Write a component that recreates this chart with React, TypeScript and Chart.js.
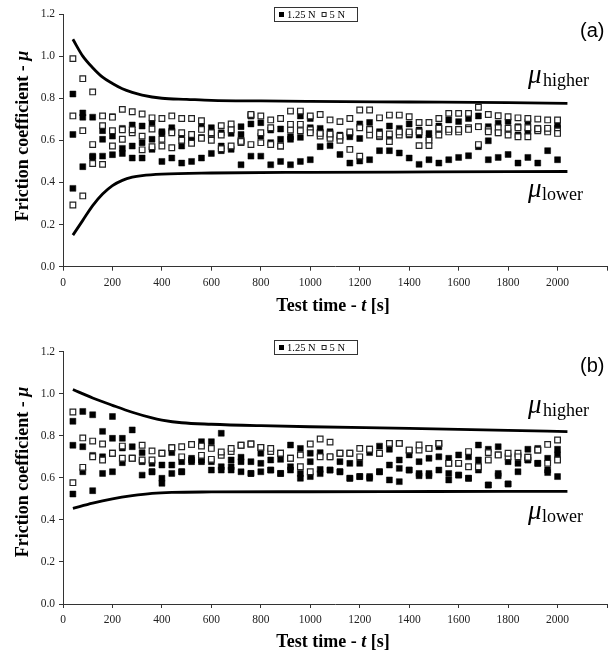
import React, { useEffect, useRef } from "react";
import { Chart, registerables } from "chart.js";
Chart.register(...registerables);

// ---------- data ----------
const times = [40, 80, 120, 160, 200, 240, 280, 320, 360, 400, 440, 480, 520, 560, 600, 640, 680, 720, 760, 800, 840, 880, 920, 960, 1000,
  1040, 1080, 1120, 1160, 1200, 1240, 1280, 1320, 1360, 1400, 1440, 1480, 1520, 1560, 1600, 1640, 1680, 1720, 1760, 1800, 1840, 1880, 1920, 1960, 2000];

// panel (a) — 1.25 N (filled)
const aLow1 = [0.82, 0.73, 0.71, 0.646, 0.712, 0.657, 0.673, 0.668, 0.684, 0.641, 0.66, 0.614, 0.605, 0.668, 0.66, 0.636, 0.657, 0.665, 0.678, 0.684, 0.649, 0.654, 0.617, 0.716, 0.704,
  0.657, 0.641, 0.625, 0.633, 0.678, 0.685, 0.641, 0.668, 0.657, 0.678, 0.649, 0.633, 0.668, 0.697, 0.689, 0.704, 0.716, 0.665, 0.681, 0.689, 0.665, 0.689, 0.657, 0.649, 0.657];
const aLow2 = [0.628, 0.71, 0.525, 0.605, 0.62, 0.562, 0.573, 0.589, 0.605, 0.633, 0.645, 0.573, 0.6, 0.614, 0.62, 0.573, 0.633, 0.628, 0.715, 0.62, 0.589, 0.605, 0.605, 0.614, 0.66,
  0.64, 0.617, 0.61, 0.617, 0.609, 0.65, 0.617, 0.617, 0.636, 0.625, 0.625, 0.61, 0.641, 0.652, 0.652, 0.655, 0.665, 0.598, 0.636, 0.641, 0.625, 0.641, 0.65, 0.657, 0.672];
const aLow3 = [0.372, 0.475, 0.52, 0.525, 0.532, 0.538, 0.516, 0.516, 0.557, 0.5, 0.516, 0.492, 0.5, 0.516, 0.538, 0.551, 0.557, 0.484, 0.525, 0.525, 0.484, 0.5, 0.484, 0.5, 0.508,
  0.57, 0.575, 0.533, 0.492, 0.502, 0.508, 0.551, 0.551, 0.54, 0.516, 0.486, 0.508, 0.492, 0.508, 0.519, 0.527, 0.57, 0.508, 0.519, 0.533, 0.492, 0.519, 0.492, 0.551, 0.508];
// panel (a) — 5 N (open)
const aHigh1 = [0.988, 0.893, 0.83, 0.716, 0.71, 0.747, 0.736, 0.725, 0.707, 0.704, 0.716, 0.704, 0.704, 0.693, 0.636, 0.67, 0.678, 0.595, 0.723, 0.716, 0.697, 0.704, 0.739, 0.739, 0.716,
  0.723, 0.697, 0.689, 0.704, 0.744, 0.744, 0.707, 0.72, 0.72, 0.712, 0.685, 0.685, 0.704, 0.728, 0.728, 0.728, 0.757, 0.723, 0.717, 0.712, 0.707, 0.704, 0.701, 0.697, 0.697];
const aHigh2 = [0.716, 0.646, 0.58, 0.67, 0.646, 0.605, 0.65, 0.62, 0.654, 0.605, 0.636, 0.636, 0.628, 0.652, 0.6, 0.625, 0.573, 0.6, 0.58, 0.636, 0.66, 0.573, 0.676, 0.676, 0.636,
  0.633, 0.63, 0.62, 0.557, 0.66, 0.652, 0.63, 0.594, 0.64, 0.64, 0.575, 0.575, 0.625, 0.652, 0.652, 0.652, 0.665, 0.641, 0.636, 0.657, 0.617, 0.617, 0.655, 0.657, 0.633];
const aHigh3 = [0.293, 0.336, 0.49, 0.486, 0.573, 0.65, 0.636, 0.555, 0.57, 0.573, 0.565, 0.6, 0.586, 0.61, 0.63, 0.56, 0.65, 0.59, 0.72, 0.589, 0.58, 0.573, 0.649, 0.646, 0.65,
  0.62, 0.61, 0.6, 0.64, 0.525, 0.625, 0.62, 0.63, 0.625, 0.63, 0.64, 0.6, 0.657, 0.64, 0.64, 0.66, 0.58, 0.65, 0.66, 0.625, 0.66, 0.66, 0.645, 0.64, 0.645];
// panel (a) bounds
const aUpperT = [40, 80, 120, 160, 200, 240, 280, 320, 400, 500, 600, 800, 1000, 1400, 1800, 2040];
const aUpperV = [1.08, 1.0, 0.945, 0.9, 0.87, 0.845, 0.828, 0.815, 0.8, 0.795, 0.79, 0.787, 0.785, 0.782, 0.779, 0.776];
const aLowerT = [40, 80, 120, 160, 200, 240, 280, 320, 400, 600, 1000, 1500, 2040];
const aLowerV = [0.15, 0.22, 0.29, 0.345, 0.385, 0.41, 0.425, 0.433, 0.44, 0.445, 0.448, 0.45, 0.452];

// panel (b) — 1.25 N (filled)
const bLow1 = [0.869, 0.916, 0.9, 0.821, 0.892, 0.788, 0.828, 0.72, 0.669, 0.661, 0.72, 0.677, 0.693, 0.772, 0.772, 0.812, 0.685, 0.698, 0.677, 0.717, 0.685, 0.688, 0.756, 0.74, 0.717,
  0.72, 0.7, 0.677, 0.669, 0.669, 0.72, 0.751, 0.736, 0.685, 0.709, 0.677, 0.693, 0.748, 0.693, 0.709, 0.7, 0.756, 0.736, 0.748, 0.677, 0.709, 0.736, 0.74, 0.693, 0.736];
const bLow2 = [0.755, 0.748, 0.707, 0.7, 0.788, 0.742, 0.748, 0.677, 0.629, 0.598, 0.661, 0.629, 0.677, 0.677, 0.677, 0.653, 0.653, 0.677, 0.621, 0.669, 0.637, 0.621, 0.653, 0.621, 0.677,
  0.64, 0.637, 0.629, 0.598, 0.606, 0.606, 0.629, 0.661, 0.645, 0.637, 0.621, 0.621, 0.7, 0.621, 0.613, 0.598, 0.685, 0.566, 0.621, 0.571, 0.669, 0.685, 0.669, 0.637, 0.709];
const bLow3 = [0.523, 0.629, 0.539, 0.621, 0.629, 0.672, 0.693, 0.613, 0.629, 0.574, 0.621, 0.629, 0.685, 0.685, 0.637, 0.637, 0.637, 0.629, 0.621, 0.629, 0.637, 0.621, 0.637, 0.598, 0.606,
  0.62, 0.637, 0.629, 0.598, 0.606, 0.598, 0.629, 0.59, 0.582, 0.637, 0.61, 0.61, 0.637, 0.59, 0.613, 0.598, 0.637, 0.566, 0.61, 0.571, 0.629, 0.685, 0.669, 0.625, 0.606];
// panel (b) — 5 N (open)
const bHigh1 = [0.913, 0.79, 0.775, 0.761, 0.717, 0.751, 0.693, 0.755, 0.728, 0.717, 0.743, 0.748, 0.759, 0.751, 0.74, 0.723, 0.74, 0.755, 0.761, 0.745, 0.74, 0.717, 0.693, 0.709, 0.761,
  0.785, 0.77, 0.717, 0.717, 0.74, 0.736, 0.717, 0.764, 0.764, 0.732, 0.756, 0.74, 0.764, 0.669, 0.669, 0.725, 0.653, 0.72, 0.709, 0.717, 0.7, 0.698, 0.732, 0.759, 0.78];
const bHigh2 = [0.577, 0.65, 0.7, 0.685, 0.717, 0.693, 0.693, 0.685, 0.685, 0.717, 0.743, 0.7, 0.759, 0.707, 0.688, 0.707, 0.725, 0.755, 0.761, 0.745, 0.725, 0.717, 0.693, 0.653, 0.629,
  0.7, 0.7, 0.717, 0.717, 0.7, 0.736, 0.717, 0.764, 0.764, 0.732, 0.732, 0.74, 0.764, 0.669, 0.669, 0.653, 0.653, 0.685, 0.709, 0.7, 0.717, 0.698, 0.732, 0.669, 0.685];
// panel (b) bounds
const bUpperT = [40, 120, 200, 280, 360, 400, 480, 600, 800, 1000, 1400, 1800, 2040];
const bUpperV = [1.02, 0.98, 0.945, 0.912, 0.885, 0.875, 0.862, 0.855, 0.848, 0.843, 0.835, 0.826, 0.82];
const bLowerT = [40, 120, 200, 280, 360, 440, 600, 1000, 1500, 2040];
const bLowerV = [0.455, 0.48, 0.5, 0.515, 0.526, 0.531, 0.533, 0.534, 0.535, 0.536];

const xTicksMax = 2200;
const yTicksMax = 1.2;
const legendLabels = ["1.25 N", "5 N"];

// ---------- helpers ----------
const SERIF = '"Liberation Serif", "DejaVu Serif", serif';
const SANS = '"Liberation Sans", Arial, sans-serif';

const pts = (xs: number[], ys: number[]) => xs.map((x, i) => ({ x, y: ys[i] }));

function filledSet(ys: number[]) {
  return {
    type: "scatter" as const,
    data: pts(times, ys),
    pointStyle: "rect",
    pointRadius: 4.2,
    backgroundColor: "#000",
    borderColor: "#000",
    borderWidth: 0.5,
    order: 2,
  };
}
function openSet(ys: number[]) {
  return {
    type: "scatter" as const,
    data: pts(times, ys),
    pointStyle: "rect",
    pointRadius: 4.0,
    backgroundColor: "#fff",
    borderColor: "#222",
    borderWidth: 1.2,
    order: 1,
  };
}
function boundSet(xs: number[], ys: number[]) {
  return {
    type: "line" as const,
    data: pts(xs, ys),
    borderColor: "#000",
    borderWidth: 2.8,
    pointRadius: 0,
    cubicInterpolationMode: "monotone" as const,
    fill: false,
    order: 0,
  };
}

type Layout = {
  height: number;
  padTop: number;
  xAxisH: number;
  legendY: number;
  tagText: string;
  tagY: number;
  hiY: number;
  loY: number;
  yTitleY: number;
  xTitleY: number;
};

function drawParts(ctx: CanvasRenderingContext2D, parts: { t: string; f: string }[], cx: number, y: number) {
  let total = 0;
  for (const p of parts) { ctx.font = p.f; total += ctx.measureText(p.t).width; }
  let x = cx - total / 2;
  ctx.textAlign = "left";
  for (const p of parts) { ctx.font = p.f; ctx.fillText(p.t, x, y); x += ctx.measureText(p.t).width; }
}

function makeTextPlugin(L: Layout) {
  return {
    id: "annot",
    afterDraw(chart: any) {
      const ctx: CanvasRenderingContext2D = chart.ctx;
      const area = chart.chartArea;
      ctx.save();
      ctx.fillStyle = "#000";
      ctx.textBaseline = "alphabetic";
      // legend box
      const bx = 274, by = L.legendY, bw = 83, bh = 14;
      ctx.strokeStyle = "#333";
      ctx.lineWidth = 1;
      ctx.fillStyle = "#fff";
      ctx.fillRect(bx, by, bw, bh);
      ctx.strokeRect(bx + 0.5, by + 0.5, bw, bh);
      ctx.fillStyle = "#000";
      ctx.font = `10.5px ${SERIF}`;
      ctx.fillRect(bx + 5, by + 5, 5, 5);
      ctx.fillText(legendLabels[0], bx + 13, by + 11);
      const w1 = ctx.measureText(legendLabels[0]).width;
      const ox = bx + 13 + w1 + 6;
      ctx.strokeStyle = "#222";
      ctx.strokeRect(ox + 0.5, by + 5.5, 4, 4);
      ctx.fillText(legendLabels[1], ox + 8, by + 11);
      // panel tag
      ctx.font = `20px ${SANS}`;
      ctx.fillText(L.tagText, 580, L.tagY);
      // mu labels
      ctx.font = `italic 27px ${SERIF}`;
      ctx.fillText("μ", 528, L.hiY);
      ctx.fillText("μ", 528, L.loY);
      ctx.font = `18px ${SERIF}`;
      ctx.fillText("higher", 543, L.hiY + 3);
      ctx.fillText("lower", 542, L.loY + 3);
      // axis titles
      const cx = (area.left + area.right) / 2;
      drawParts(ctx, [
        { t: "Test time - ", f: `bold 18px ${SERIF}` },
        { t: "t", f: `bold italic 18px ${SERIF}` },
        { t: " [s]", f: `bold 18px ${SERIF}` },
      ], cx - 2, L.xTitleY);
      ctx.save();
      ctx.translate(28, L.yTitleY);
      ctx.rotate(-Math.PI / 2);
      drawParts(ctx, [
        { t: "Friction coefficient - ", f: `bold 18px ${SERIF}` },
        { t: "μ", f: `bold italic 18px ${SERIF}` },
      ], 0, 0);
      ctx.restore();
      ctx.restore();
    },
  };
}

function PanelChart({ datasets, L }: { datasets: any[]; L: Layout }) {
  const ref = useRef<HTMLCanvasElement | null>(null);
  useEffect(() => {
    if (!ref.current) return;
    const chart = new Chart(ref.current, {
      type: "scatter",
      data: { datasets },
      options: {
        animation: false,
        responsive: false,
        devicePixelRatio: 1,
        events: [],
        layout: { padding: { top: L.padTop, left: 0, right: 6, bottom: 0 } },
        plugins: { legend: { display: false }, tooltip: { enabled: false } },
        scales: {
          x: {
            type: "linear",
            min: 0,
            max: xTicksMax,
            afterFit: (s: any) => { s.height = L.xAxisH; },
            ticks: {
              stepSize: 200,
              color: "#222",
              font: { family: SERIF, size: 11.5 },
              padding: 5,
              maxRotation: 0,
              autoSkip: false,
              callback: (v: any) => (Number(v) >= xTicksMax ? "" : String(v)),
            },
            grid: { display: true, drawOnChartArea: false, drawTicks: true, tickLength: 4, color: "#333" },
            border: { display: true, color: "#333", width: 1 },
          },
          y: {
            type: "linear",
            min: 0,
            max: yTicksMax,
            afterFit: (s: any) => { s.width = 63; },
            ticks: {
              stepSize: 0.2,
              color: "#222",
              font: { family: SERIF, size: 11.5 },
              padding: 4,
              callback: (v: any) => Number(v).toFixed(1),
            },
            grid: { display: true, drawOnChartArea: false, drawTicks: true, tickLength: 4, color: "#333" },
            border: { display: true, color: "#333", width: 1 },
          },
        },
      },
      plugins: [makeTextPlugin(L)],
    } as any);
    return () => chart.destroy();
  }, []);
  return <canvas ref={ref} width={613} height={L.height} style={{ display: "block", width: 613, height: L.height }} />;
}

const datasetsA = [
  boundSet(aUpperT, aUpperV),
  boundSet(aLowerT, aLowerV),
  filledSet(aLow1), filledSet(aLow2), filledSet(aLow3),
  openSet(aHigh1), openSet(aHigh2), openSet(aHigh3),
];
const datasetsB = [
  boundSet(bUpperT, bUpperV),
  boundSet(bLowerT, bLowerV),
  filledSet(bLow1), filledSet(bLow2), filledSet(bLow3),
  openSet(bHigh1), openSet(bHigh2),
];

const layoutA: Layout = { height: 327, padTop: 14, xAxisH: 60.3, legendY: 7, tagText: "(a)", tagY: 37, hiY: 83, loY: 197, yTitleY: 136, xTitleY: 311 };
const layoutB: Layout = { height: 328, padTop: 24.7, xAxisH: 51, legendY: 13, tagText: "(b)", tagY: 45, hiY: 86, loY: 192, yTitleY: 145, xTitleY: 320 };

export default function App() {
  return (
    <div style={{ position: "absolute", left: 0, top: 0, width: 613, height: 655, background: "#fff" }}>
      <PanelChart datasets={datasetsA} L={layoutA} />
      <PanelChart datasets={datasetsB} L={layoutB} />
    </div>
  );
}
